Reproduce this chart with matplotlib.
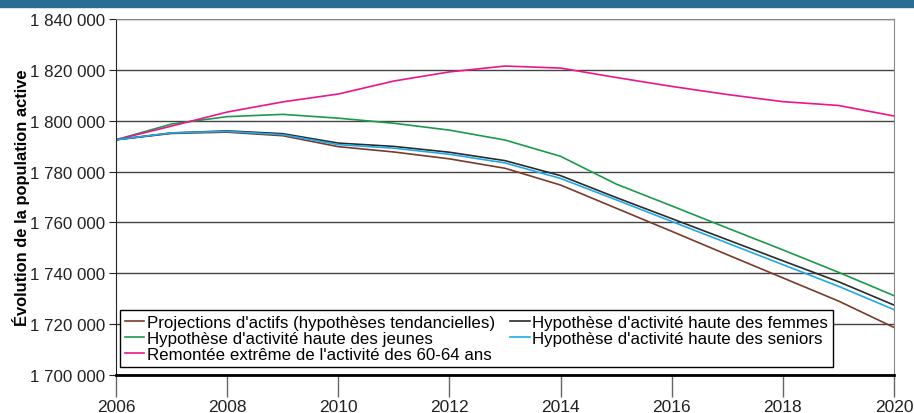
import matplotlib.pyplot as plt
from matplotlib.patches import Rectangle
from matplotlib.ticker import FuncFormatter

plt.rcParams['font.family'] = ['Liberation Sans', 'DejaVu Sans']

# Data
years = list(range(2006, 2021))
tendanciel = [1792500, 1795000, 1795500, 1794100, 1789800, 1787700, 1785000, 1781300,
              1774700, 1765600, 1756500, 1747300, 1738200, 1729100, 1718700]
jeunes = [1792500, 1798700, 1801600, 1802500, 1801000, 1799000, 1796300, 1792400,
          1786000, 1775100, 1766500, 1757800, 1749200, 1740400, 1731200]
seniors_60_64 = [1792500, 1797900, 1803400, 1807400, 1810500, 1815600, 1819200, 1821500,
                 1820700, 1817000, 1813500, 1810300, 1807500, 1806000, 1801850]
femmes = [1792500, 1795200, 1796000, 1794900, 1791200, 1789900, 1787600, 1784300,
          1778400, 1769800, 1761500, 1753200, 1744900, 1736700, 1727500]
seniors = [1792500, 1795200, 1795800, 1794500, 1790600, 1789200, 1786800, 1783400,
           1777300, 1768900, 1760400, 1751900, 1743400, 1734900, 1725700]

fig = plt.figure(figsize=(9.14, 4.14), dpi=100)
ax = fig.add_axes([116 / 914, 1 - 376 / 414, (894 - 116) / 914, (376 - 20) / 414])

# top band
fig.patches.append(Rectangle((0, 1 - 8 / 414), 1, 8 / 414, transform=fig.transFigure,
                             color='#2a6d94', zorder=0))

ax.plot(years, tendanciel, color='#7b3a2a', lw=1.2, label="Projections d'actifs (hypothèses tendancielles)")
ax.plot(years, jeunes, color='#1a9a4a', lw=1.2, label="Hypothèse d'activité haute des jeunes")
ax.plot(years, seniors_60_64, color='#ec158c', lw=1.2, label="Remontée extrême de l'activité des 60-64 ans")
ax.plot(years, femmes, color='#2b2b2b', lw=1.2, label="Hypothèse d'activité haute des femmes")
ax.plot(years, seniors, color='#1fa9e8', lw=1.2, label="Hypothèse d'activité haute des seniors")

ax.set_xlim(2006, 2020)
ax.set_ylim(1700000, 1840000)
ax.set_xticks(range(2006, 2021, 2))
ax.set_yticks(range(1700000, 1840001, 20000))
ax.yaxis.set_major_formatter(FuncFormatter(lambda v, p: f"{int(v):,}".replace(',', ' ')))

ax.grid(axis='y', color='#444444', lw=1)
ax.set_axisbelow(True)
ax.spines['top'].set_color('#888888')
ax.spines['right'].set_color('#888888')
ax.spines['left'].set_color('#222222')
ax.spines['bottom'].set_color('black')
ax.spines['bottom'].set_linewidth(2)
ax.tick_params(axis='y', length=5, color='#222222', labelsize=12.2, pad=3, labelcolor='#222222')
ax.tick_params(axis='x', length=16, color='#666666', width=1, labelsize=12.5, pad=1, labelcolor='#222222')

ax.set_ylabel('Évolution de la population active', fontsize=11.9, fontweight='bold', labelpad=0)

leg = ax.legend(loc='lower left', bbox_to_anchor=(0.005, 0.023), ncol=2, fontsize=12.2,
                frameon=True, fancybox=False, edgecolor='black', framealpha=1,
                handlelength=1.15, handletextpad=0.15, borderpad=0.3, labelspacing=0.05,
                columnspacing=0.9, borderaxespad=0)
leg.get_frame().set_linewidth(1)

fig.savefig('out.png', dpi=100)
